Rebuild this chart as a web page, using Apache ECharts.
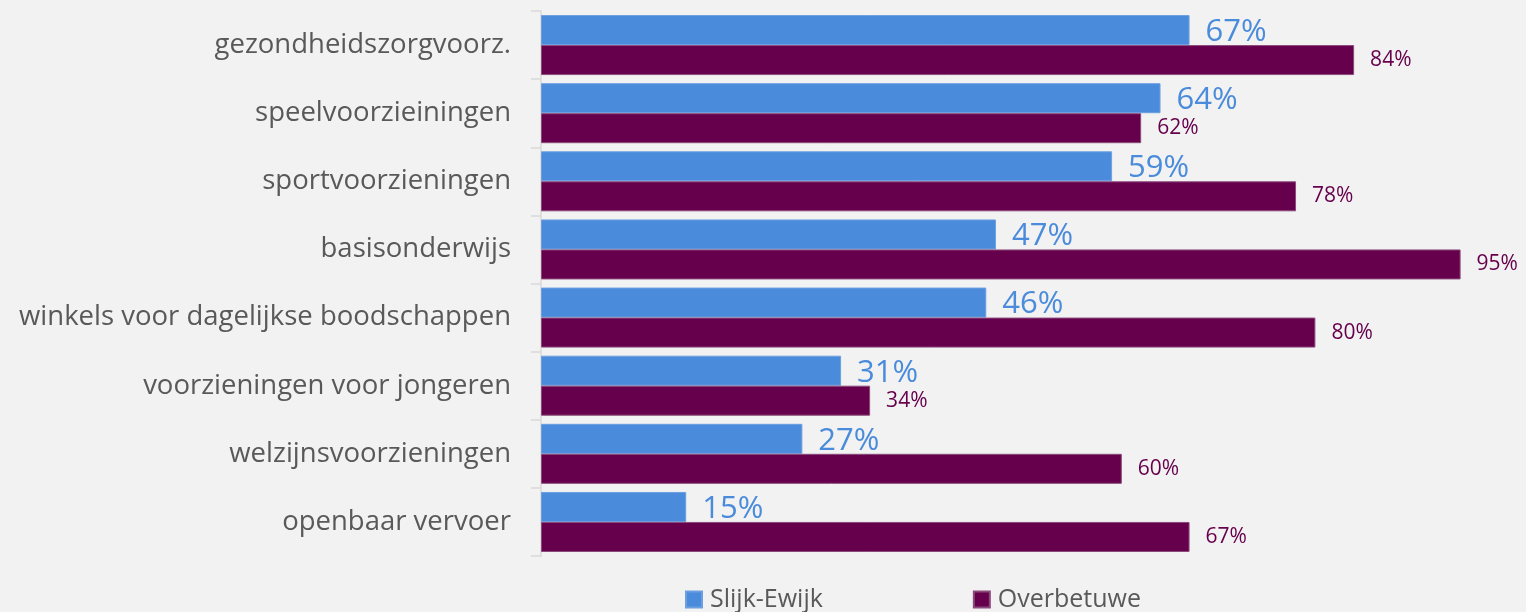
<!DOCTYPE html>
<html>
<head>
<meta charset="utf-8">
<script src="https://cdn.jsdelivr.net/npm/echarts@6/dist/echarts.min.js"></script>
<style>
  html, body { margin: 0; padding: 0; background: #f2f2f2; }
  #chart { width: 1526px; height: 612px; }
</style>
</head>
<body>
<div id="chart"></div>
<script>
const categories = [
  'gezondheidszorgvoorz.',
  'speelvoorzieiningen',
  'sportvoorzieningen',
  'basisonderwijs',
  'winkels voor dagelijkse boodschappen',
  'voorzieningen voor jongeren',
  'welzijnsvoorzieningen',
  'openbaar vervoer'
];
const slijkEwijk = [67, 64, 59, 47, 46, 31, 27, 15];
const overbetuwe = [84, 62, 78, 95, 80, 34, 60, 67];

const font = '"Open Sans", "Noto Sans", sans-serif';

const chart = echarts.init(document.getElementById('chart'));

const option = {
  backgroundColor: '#f2f2f2',
  animation: false,
  grid: { left: 541, right: 17, top: 11, bottom: 56 },
  xAxis: {
    type: 'value', min: 0, max: 100,
    show: false
  },
  yAxis: {
    type: 'category',
    inverse: true,
    data: categories,
    axisLine: { show: true, lineStyle: { color: '#d9d9d9', width: 1.5 } },
    axisTick: { show: true, length: 10, lineStyle: { color: '#d9d9d9', width: 1.5 } },
    axisLabel: { color: '#595959', fontSize: 27.5, fontFamily: font, margin: 30 }
  },
  legend: {
    left: 680, top: 582,
    itemWidth: 16, itemHeight: 16, itemGap: 150,
    icon: 'rect',
    textStyle: { color: '#595959', fontSize: 25, fontFamily: font, padding: [0, 0, 0, 3] },
    data: ['Slijk-Ewijk', 'Overbetuwe']
  },
  series: [
    {
      name: 'Slijk-Ewijk', type: 'bar', data: slijkEwijk,
      barWidth: 30, barGap: '0%',
      itemStyle: { color: '#4a8bdb', borderColor: '#6d9fe0', borderWidth: 1 },
      label: {
        show: true, position: 'right', distance: 16, offset: [0, 2],
        formatter: '{c}%', color: '#4a8bdb', fontSize: 31, fontFamily: font
      }
    },
    {
      name: 'Overbetuwe', type: 'bar', data: overbetuwe,
      barWidth: 30,
      itemStyle: { color: '#66004c', borderColor: '#8a4a7a', borderWidth: 1 },
      label: {
        show: true, position: 'right', distance: 16,
        formatter: '{c}%', color: '#66004c', fontSize: 21, fontFamily: font
      }
    }
  ]
};

chart.setOption(option);
</script>
</body>
</html>
